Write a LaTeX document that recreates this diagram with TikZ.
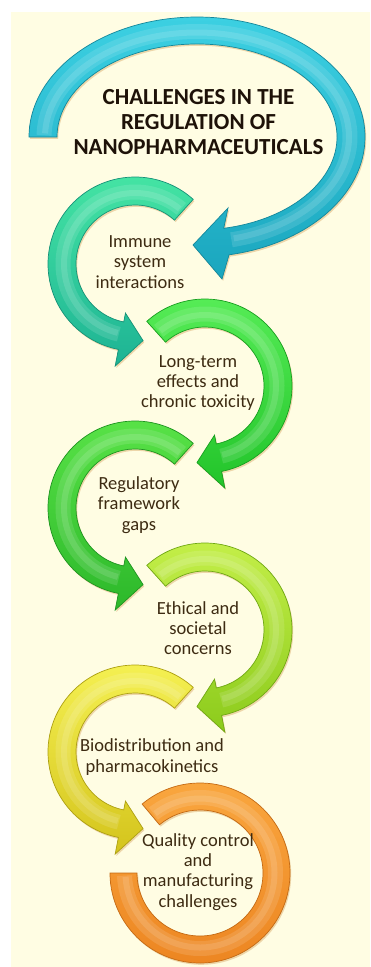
\documentclass[tikz,border=0pt]{standalone}
\usepackage{fontspec}
\setmainfont{Carlito}
\usetikzlibrary{shadows}
\definecolor{cream}{HTML}{FFFDE3}
\definecolor{shadowtan}{HTML}{DDB070}
\definecolor{titlecol}{HTML}{1E1208}
\definecolor{bodycol}{HTML}{3D2B12}
\definecolor{cA}{HTML}{3CD0E2}\definecolor{cAb}{HTML}{1AA6BE}\definecolor{cAe}{HTML}{14879B}
\definecolor{cB}{HTML}{46E6A4}\definecolor{cBb}{HTML}{1DB394}\definecolor{cBe}{HTML}{169278}
\definecolor{cC}{HTML}{58EE58}\definecolor{cCb}{HTML}{22C42A}\definecolor{cCe}{HTML}{189E20}
\definecolor{cD}{HTML}{5AE448}\definecolor{cDb}{HTML}{2CB82A}\definecolor{cDe}{HTML}{1E9420}
\definecolor{cE}{HTML}{C6F04A}\definecolor{cEb}{HTML}{8CCB1C}\definecolor{cEe}{HTML}{70A814}
\definecolor{cF}{HTML}{F6F254}\definecolor{cFb}{HTML}{D4C41C}\definecolor{cFe}{HTML}{ADA012}
\definecolor{cG}{HTML}{FAA840}\definecolor{cGb}{HTML}{EC8420}\definecolor{cGe}{HTML}{C46A14}
\tikzset{
  arrowbody/.style={drop shadow={shadow xshift=1.2pt, shadow yshift=-1.8pt, opacity=.5, fill=shadowtan}, line width=.7pt},
  glosswide/.style={white, opacity=.12, line width=15pt},
  glossthin/.style={white, opacity=.12, line width=6pt},
  bodytext/.style={text=bodycol, align=center, font=\fontsize{18.5}{20.3}\selectfont, inner sep=0pt},
  titletext/.style={text=titlecol, align=center, font=\fontsize{23}{25}\selectfont\bfseries, inner sep=0pt}
}
% counter-clockwise C arrow (tail top right, head bottom pointing right)
\newcommand\ccwArrow[4]{%
 \begin{scope}[shift={#1}]
  \path[arrowbody, top color=#2, bottom color=#3, draw=#4]
   (48:87) arc[start angle=48,end angle=259,radius=87] -- (259:104) -- (276:77)
   -- (259:50) -- (259:59) arc[start angle=259,end angle=48,radius=59] -- cycle;
  \draw[glosswide] (50:72) arc[start angle=50,end angle=257,radius=72];
  \draw[glossthin] (51:71) arc[start angle=51,end angle=256,radius=71];
 \end{scope}}
% clockwise C arrow (tail top left, head bottom pointing left)
\newcommand\cwArrow[4]{%
 \begin{scope}[shift={#1}]
  \path[arrowbody, top color=#2, bottom color=#3, draw=#4]
   (132:87) arc[start angle=132,end angle=-79,radius=87] -- (-79:104) -- (-96:77)
   -- (-79:50) -- (-79:59) arc[start angle=-79,end angle=132,radius=59] -- cycle;
  \draw[glosswide] (130:72) arc[start angle=130,end angle=-77,radius=72];
  \draw[glossthin] (129:71) arc[start angle=129,end angle=-76,radius=71];
 \end{scope}}
\begin{document}
\begin{tikzpicture}[x=1pt,y=1pt]
\useasboundingbox (0,0) rectangle (370,-967);
\fill[white] (0,0) rectangle (370,-967);
\fill[cream] (11,-12) rectangle (370,-967);

% orange ring (last step)
\begin{scope}[shift={(200,-873)}]
  \path[arrowbody, top color=cG, bottom color=cGb, draw=cGe]
   (130:90) arc[start angle=130,end angle=-180,radius=90] -- (180:63)
   arc[start angle=-180,end angle=130,radius=63] -- cycle;
  \draw[glosswide] (128:75.5) arc[start angle=128,end angle=-178,radius=75.5];
  \draw[glossthin] (127:74.5) arc[start angle=127,end angle=-177,radius=74.5];
\end{scope}
\ccwArrow{(135,-752)}{cF}{cFb}{cFe}
\cwArrow{(205,-630)}{cE}{cEb}{cEe}
\ccwArrow{(135,-508)}{cD}{cDb}{cDe}
\cwArrow{(205,-386)}{cC}{cCb}{cCe}
\ccwArrow{(135,-264)}{cB}{cBb}{cBe}

% big cyan arrow
\begin{scope}[shift={(197,-137)}]
  \path[arrowbody, top color=cA, bottom color=cAb, draw=cAe]
   (180:168 and 120) arc[start angle=180,end angle=-79,x radius=168,y radius=120]
   -- (25,-142) -- (-4,-108) -- (31,-71) -- (-79:140 and 93)
   arc[start angle=-79,end angle=180,x radius=140,y radius=93] -- cycle;
  \draw[glosswide] (179:153 and 105.5) arc[start angle=179,end angle=-77,x radius=153,y radius=105.5];
  \draw[glossthin] (178:152 and 104.5) arc[start angle=178,end angle=-76,x radius=152,y radius=104.5];
\end{scope}

\node[titletext] (title) at (198.5,-122) {CHALLENGES IN THE\\REGULATION OF\\NANOPHARMACEUTICALS};
\node[bodytext] (immune) at (140,-262) {Immune\\system\\interactions};
\node[bodytext] (longterm) at (198,-383) {Long-term\\effects and\\chronic toxicity};
\node[bodytext] (regul) at (139,-505) {Regulatory\\framework\\gaps};
\node[bodytext] (ethic) at (198,-628) {Ethical and\\societal\\concerns};
\node[bodytext] (biodist) at (152,-757) {Biodistribution and\\pharmacokinetics};
\node[bodytext] (quality) at (198,-872) {Quality control\\and\\manufacturing\\challenges};
\end{tikzpicture}
\end{document}
